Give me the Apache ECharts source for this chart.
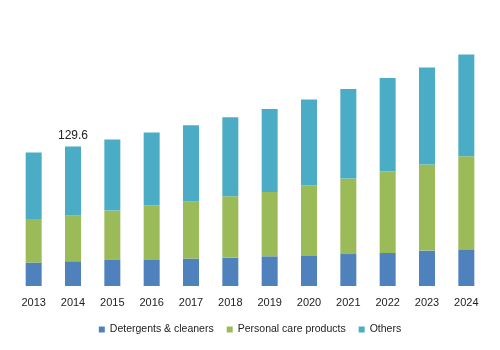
<!DOCTYPE html>
<html>
<head>
<meta charset="utf-8">
<script src="https://cdn.jsdelivr.net/npm/echarts@6/dist/echarts.min.js"></script>
<style>
  html, body { margin: 0; padding: 0; background: #fff; }
  #chart { width: 500px; height: 350px; }
</style>
</head>
<body>
<div id="chart"></div>
<script>
// data
var years = ['2013', '2014', '2015', '2016', '2017', '2018', '2019', '2020', '2021', '2022', '2023', '2024'];
var detergents = [21.8, 23.0, 24.2, 24.2, 25.5, 26.4, 27.6, 28.5, 29.7, 30.7, 32.9, 34.1];
var personalCare = [40.5, 42.8, 45.9, 50.6, 53.3, 57.0, 59.8, 64.8, 70.1, 76.0, 80.0, 86.5];
var others = [61.7, 63.8, 66.0, 67.9, 70.7, 73.4, 77.2, 80.0, 83.3, 86.5, 90.2, 94.5];
var seriesNames = ['Detergents & cleaners', 'Personal care products', 'Others'];
var colors = ['#4F81BD', '#9BBB59', '#4BACC6'];
var labelledYear = '2014';
var labelledTotal = '129.6';

var font = '"Liberation Sans Narrow", "Arial Narrow", "Liberation Sans", Arial, sans-serif';

var chart = echarts.init(document.getElementById('chart'));

var othersData = others.map(function(v, i) {
    if (years[i] === labelledYear) {
        return {
            value: v,
            label: {
                show: true,
                position: 'top',
                distance: 5,
                formatter: labelledTotal,
                color: '#222',
                fontSize: 12,
                fontFamily: font
            }
        };
    }
    return v;
});

var option = {
    animation: false,
    color: colors,
    grid: {
        left: 14,
        right: 14,
        top: 17,
        bottom: 64
    },
    legend: {
        data: seriesNames,
        bottom: 10,
        left: 'center',
        icon: 'rect',
        itemWidth: 6,
        itemHeight: 6,
        itemGap: 13,
        textStyle: {
            color: '#222',
            fontSize: 10.5,
            fontFamily: font
        }
    },
    xAxis: {
        type: 'category',
        data: years,
        axisLine: { show: false },
        axisTick: { show: false },
        axisLabel: {
            color: '#222',
            fontSize: 11,
            margin: 11,
            fontFamily: font
        }
    },
    yAxis: {
        type: 'value',
        min: 0,
        max: 250,
        show: false,
        splitLine: { show: false }
    },
    series: [
        { name: seriesNames[0], type: 'bar', stack: 'total', barWidth: 16, data: detergents },
        { name: seriesNames[1], type: 'bar', stack: 'total', barWidth: 16, data: personalCare },
        { name: seriesNames[2], type: 'bar', stack: 'total', barWidth: 16, data: othersData }
    ]
};

chart.setOption(option);
</script>
</body>
</html>
